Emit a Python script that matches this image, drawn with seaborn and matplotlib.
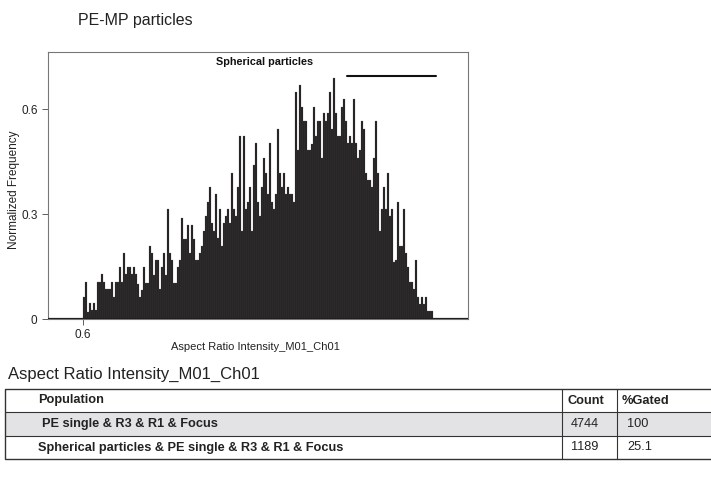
import numpy as np
import pandas as pd
import matplotlib
matplotlib.use("Agg")
import matplotlib.pyplot as plt
import seaborn as sns
from matplotlib.patches import Rectangle

# ---------------- data ----------------
x_start = 0.6
x_end = 1.0
freq = [
    # ~0.60 - 0.663
    0.064, 0.107, 0.020, 0.046, 0.026, 0.046, 0.026, 0.107, 0.107, 0.128,
    0.107, 0.086, 0.086, 0.086, 0.107, 0.064, 0.107, 0.107, 0.149, 0.107,
    0.190, 0.128, 0.149, 0.149, 0.128, 0.149, 0.128, 0.100,
    # next
    0.064, 0.083, 0.149, 0.104, 0.104, 0.210, 0.190, 0.126, 0.170, 0.170,
    0.086, 0.149, 0.190, 0.126, 0.314, 0.190, 0.170, 0.104, 0.104, 0.149,
    0.170, 0.290, 0.230, 0.230, 0.270, 0.190, 0.270, 0.230, 0.170,
    # next
    0.169, 0.190, 0.209, 0.252, 0.294, 0.335, 0.378, 0.274, 0.252, 0.357,
    0.231, 0.314, 0.209, 0.274, 0.294, 0.314, 0.274, 0.418, 0.314, 0.294,
    0.378, 0.523, 0.252, 0.523, 0.314, 0.335, 0.378, 0.252, 0.440,
    # next
    0.504, 0.335, 0.294, 0.378, 0.460, 0.418, 0.357, 0.504, 0.335, 0.314,
    0.357, 0.544, 0.418, 0.378, 0.418, 0.357, 0.378, 0.357, 0.357, 0.335,
    0.650, 0.483, 0.669, 0.607, 0.567, 0.567, 0.483, 0.483, 0.500,
    # next
    0.607, 0.523, 0.567, 0.567, 0.460, 0.588, 0.567, 0.588, 0.650, 0.544,
    0.690, 0.588, 0.523, 0.523, 0.607, 0.629, 0.567, 0.504, 0.523, 0.504,
    0.629, 0.504, 0.460, 0.483, 0.567, 0.544, 0.418, 0.397, 0.397,
    # tail
    0.378, 0.460, 0.567, 0.418, 0.252, 0.314, 0.378, 0.314, 0.418, 0.294,
    0.314, 0.164, 0.169, 0.335, 0.209, 0.209, 0.314, 0.190, 0.149, 0.107,
    0.107, 0.086, 0.169, 0.064, 0.043, 0.064, 0.043, 0.064, 0.024, 0.024,
    0.024,
]
y_ticks = [0, 0.3, 0.6]
y_tick_labels = ["0", "0.3", "0.6"]
x_ticks = [0.6]
x_tick_labels = ["0.6"]
gate_name = "Spherical particles"
gate_range = [0.902, 1.003]
gate_level = 0.694

chart_title = "PE-MP particles"
x_label = "Aspect Ratio Intensity_M01_Ch01"
y_label = "Normalized Frequency"

table_title = "Aspect Ratio Intensity_M01_Ch01"
table_header = ["Population", "Count", "%Gated"]
populations = ["PE single & R3 & R1 & Focus",
               "Spherical particles & PE single & R3 & R1 & Focus"]
counts = ["4744", "1189"]
gated = ["100", "25.1"]

# ---------------- figure ----------------
sns.set_style("white")
plt.rcParams['font.family'] = ['Liberation Sans', 'DejaVu Sans']

W, H = 711, 496
fig = plt.figure(figsize=(W / 100, H / 100), dpi=100)

ax = fig.add_axes([48 / W, 1 - 319 / H, 420 / W, 267 / H])

n = len(freq)
bw = (x_end - x_start) / n
centers = x_start + bw * (np.arange(n) + 0.5)
df = pd.DataFrame({"x": centers, "w": freq})
sns.histplot(data=df, x="x", weights="w", binwidth=bw, binrange=(x_start, x_end),
             ax=ax, color="#231f20", alpha=1, edgecolor="#5a5a5a", linewidth=0.15,
             element="bars", fill=True)

ax.axhline(0, color="#231f20", lw=1.6, zorder=5)
ax.set_xlim(0.56, 1.04)
ax.set_ylim(0, 0.763)
ax.set_yticks(y_ticks)
ax.set_yticklabels(y_tick_labels)
ax.set_xticks(x_ticks)
ax.set_xticklabels(x_tick_labels)
ax.tick_params(axis="both", labelsize=8.5, length=4.5, width=0.6, color="#444444",
               labelcolor="#222222", direction="out", bottom=True, left=True, pad=3)
ax.tick_params(axis="x", pad=2.5)
for s in ax.spines.values():
    s.set_color("#777777")
    s.set_linewidth(0.8)
ax.set_xlabel(x_label, fontsize=8, color="#222222")
ax.set_ylabel(y_label, fontsize=8.5, color="#222222")
ax.xaxis.set_label_coords((255 - 48) / 420, (319 - 342) / 267)
ax.yaxis.set_label_coords((20 - 48) / 420, (319 - 190) / 267)

# gate
ax.plot(gate_range, [gate_level, gate_level], color="#111111", lw=1.5)
ax.text(0.807, 0.733, gate_name, ha="center", va="center", fontsize=7.8,
        fontweight="bold", color="#111111")

fig.text(78 / W, 1 - 20 / H, chart_title, fontsize=11.5, ha="left", va="center",
         color="#222222")

# ---------------- table ----------------
tx = fig.add_axes([0, 0, 1, 1])
tx.set_xlim(0, W)
tx.set_ylim(H, 0)
tx.axis("off")

tfont = ['Liberation Sans', 'DejaVu Sans']
tx.text(8, 374, table_title, fontsize=12, family=tfont, ha="left", va="center",
        color="#222222")

left, right = 5, 713
col1, col2 = 562, 617
row_edges = [389, 412, 436, 459]
tx.add_patch(Rectangle((left, row_edges[1]), right - left, row_edges[2] - row_edges[1],
                       facecolor="#e3e3e5", edgecolor="none"))
tx.add_patch(Rectangle((left, row_edges[0]), right - left, row_edges[-1] - row_edges[0],
                       facecolor="none", edgecolor="#333333", lw=1.0))
for yv in row_edges[1:-1]:
    tx.plot([left, right], [yv, yv], color="#333333", lw=0.8)
for xv in (col1, col2):
    tx.plot([xv, xv], [row_edges[0], row_edges[-1]], color="#333333", lw=0.8)

fs = 9.2
cy = [(row_edges[i] + row_edges[i + 1]) / 2 for i in range(3)]
tx.text(38, cy[0], table_header[0], fontsize=fs, family=tfont, fontweight="bold",
        ha="left", va="center", color="#222222")
tx.text(567, cy[0], table_header[1], fontsize=fs, family=tfont, fontweight="bold",
        ha="left", va="center", color="#222222")
tx.text(622, cy[0], table_header[2], fontsize=fs, family=tfont, fontweight="bold",
        ha="left", va="center", color="#222222")
pop_x = [42, 38]
for i in range(2):
    tx.text(pop_x[i], cy[i + 1], populations[i], fontsize=fs, family=tfont,
            fontweight="bold", ha="left", va="center", color="#222222")
    tx.text(571, cy[i + 1], counts[i], fontsize=fs, family=tfont,
            ha="left", va="center", color="#222222")
    tx.text(627, cy[i + 1], gated[i], fontsize=fs, family=tfont,
            ha="left", va="center", color="#222222")

fig.savefig("out.png", dpi=100)
